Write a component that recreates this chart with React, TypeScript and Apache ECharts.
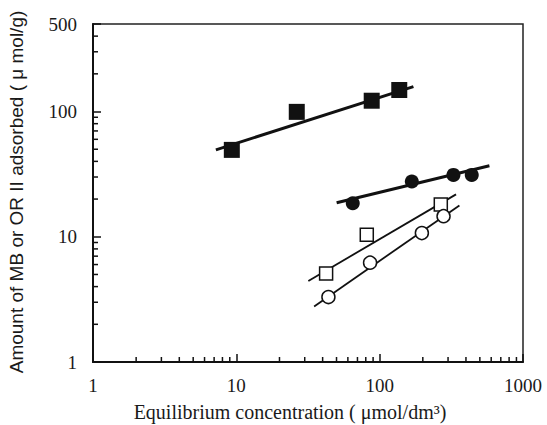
import React, { useEffect, useRef } from "react";
import * as echarts from "echarts";

// Filled squares
const fsX = [9.3, 26.4, 88, 137];
const fsY = [49.4, 99.4, 122, 148.6];
const fsFitX = [7.2, 172];
const fsFitY = [49.4, 158];
// Filled circles
const fcX = [64.9, 167.6, 327, 439];
const fcY = [18.5, 27.6, 31.2, 31.2];
const fcFitX = [50.1, 583];
const fcFitY = [18.7, 36.9];
// Open squares
const osX = [42.3, 81.3, 267];
const osY = [5.1, 10.4, 18.1];
const osFitX = [31.8, 341];
const osFitY = [4.44, 21.8];
// Open circles
const ocX = [43.9, 85.7, 197, 279];
const ocY = [3.3, 6.21, 10.7, 14.6];
const ocFitX = [34.9, 360];
const ocFitY = [2.78, 17.8];

// Axis ranges / minor ticks
const xMin = 1;
const xMax = 1000;
const yMin = 1;
const yMax = 500;
const minorMultipliers = [2, 3, 4, 5, 6, 7, 8, 9];
const decades = [1, 10, 100];

const xTitle = "Equilibrium concentration ( \u03bcmol/dm\u00b3)";
const yTitle = "Amount of MB or OR II adsorbed ( \u03bc mol/g)";

const pairs = (xs: number[], ys: number[]) => xs.map((x, i) => [x, ys[i]]);

export default function App() {
  const ref = useRef<HTMLDivElement>(null);
  useEffect(() => {
    if (!ref.current) return;
    const chart = echarts.init(ref.current, undefined, { renderer: "svg" });
    const ink = "#111111";
    const xMinor: number[][] = [];
    const yMinor: number[][] = [];
    decades.forEach((d) =>
      minorMultipliers.forEach((m) => {
        const v = d * m;
        if (v < xMax) xMinor.push([v, yMin]);
        if (v < yMax) yMinor.push([xMin, v]);
      })
    );
    const labelStyle = {
      fontFamily: "Liberation Serif",
      fontSize: 19,
      color: "#1a1a1a",
      formatter: (v: number) => String(Math.round(v)),
    };
    const fitLine = (xs: number[], ys: number[], w: number) => ({
      type: "line",
      data: pairs(xs, ys),
      showSymbol: false,
      symbol: "none",
      lineStyle: { color: ink, width: w, opacity: 1 },
      z: 2,
      silent: true,
    });
    chart.setOption({
      animation: false,
      backgroundColor: "#ffffff",
      grid: {
        left: 93,
        right: 24,
        top: 24,
        bottom: 63,
        show: true,
        borderColor: "#222",
        borderWidth: 1.5,
        backgroundColor: "transparent",
      },
      xAxis: {
        type: "log",
        logBase: 10,
        min: xMin,
        max: xMax,
        axisLine: { show: true, lineStyle: { color: ink, width: 2 } },
        axisTick: { show: true, inside: true, length: 8, lineStyle: { color: ink, width: 1.5 } },
        axisLabel: { ...labelStyle, margin: 14 },
        splitLine: { show: false },
      },
      yAxis: {
        type: "log",
        logBase: 10,
        min: yMin,
        max: yMax,
        axisLine: { show: true, lineStyle: { color: ink, width: 2 } },
        axisTick: { show: true, inside: true, length: 8, lineStyle: { color: ink, width: 1.5 } },
        axisLabel: { ...labelStyle, margin: 16 },
        splitLine: { show: false },
      },
      graphic: [
        {
          type: "text",
          x: 290,
          y: 412,
          style: {
            text: xTitle,
            font: "20px 'Liberation Serif'",
            fill: "#1a1a1a",
            align: "center",
            verticalAlign: "middle",
          },
        },
        {
          type: "text",
          x: 16,
          y: 192,
          rotation: Math.PI / 2,
          style: {
            text: yTitle,
            font: "19px 'Liberation Sans'",
            fill: "#1a1a1a",
            align: "center",
            verticalAlign: "middle",
          },
        },
      ],
      series: [
        {
          type: "custom",
          data: xMinor,
          silent: true,
          clip: false,
          renderItem: (_p: any, api: any) => {
            const p = api.coord([api.value(0), api.value(1)]);
            return {
              type: "line",
              shape: { x1: p[0], y1: p[1], x2: p[0], y2: p[1] - 5 },
              style: { stroke: ink, lineWidth: 1.5 },
            };
          },
        },
        {
          type: "custom",
          data: yMinor,
          silent: true,
          clip: false,
          renderItem: (_p: any, api: any) => {
            const p = api.coord([api.value(0), api.value(1)]);
            return {
              type: "line",
              shape: { x1: p[0], y1: p[1], x2: p[0] + 5, y2: p[1] },
              style: { stroke: ink, lineWidth: 1.5 },
            };
          },
        },
        fitLine(fsFitX, fsFitY, 3),
        fitLine(fcFitX, fcFitY, 3),
        fitLine(osFitX, osFitY, 1.8),
        fitLine(ocFitX, ocFitY, 1.8),
        {
          type: "scatter",
          data: pairs(fsX, fsY),
          symbol: "rect",
          symbolSize: 16,
          itemStyle: { color: ink, opacity: 1 },
          z: 3,
        },
        {
          type: "scatter",
          data: pairs(fcX, fcY),
          symbol: "circle",
          symbolSize: 14,
          itemStyle: { color: ink, opacity: 1 },
          z: 3,
        },
        {
          type: "scatter",
          data: pairs(osX, osY),
          symbol: "rect",
          symbolSize: 13,
          itemStyle: { color: "#ffffff", borderColor: ink, borderWidth: 1.5, opacity: 1 },
          z: 3,
        },
        {
          type: "scatter",
          data: pairs(ocX, ocY),
          symbol: "circle",
          symbolSize: 13,
          itemStyle: { color: "#ffffff", borderColor: ink, borderWidth: 1.5, opacity: 1 },
          z: 3,
        },
      ],
    });
    return () => chart.dispose();
  }, []);
  return (
    <div
      ref={ref}
      style={{ position: "fixed", left: 0, top: 0, width: 547, height: 425, background: "#fff" }}
    />
  );
}
